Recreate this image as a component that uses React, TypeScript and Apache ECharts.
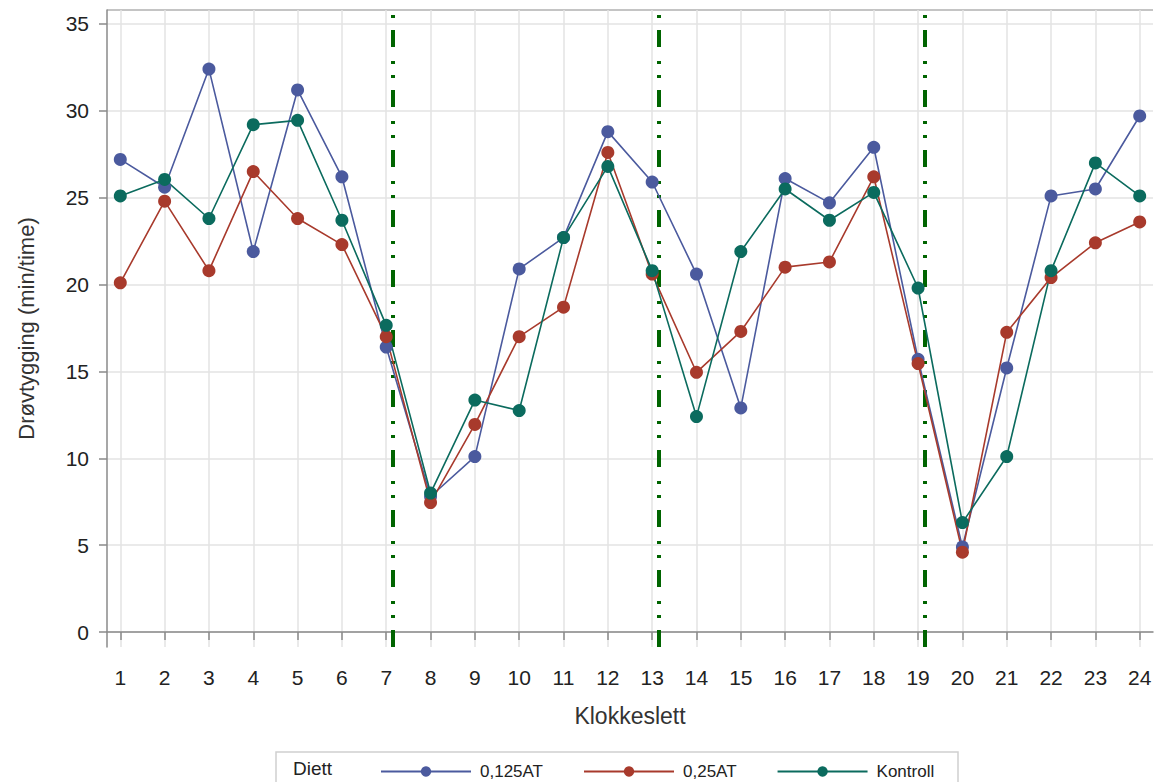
import React, { useEffect, useRef } from "react";
import * as echarts from "echarts";

const hours = [1,2,3,4,5,6,7,8,9,10,11,12,13,14,15,16,17,18,19,20,21,22,23,24];
const yTicks = [0, 5, 10, 15, 20, 25, 30, 35];
const seriesNames = ["0,125AT", "0,25AT", "Kontroll"];
const at0125 = [27.2,25.6,32.4,21.9,31.2,26.2,16.4,7.8,10.1,20.9,22.7,28.8,25.9,20.6,12.9,26.1,24.7,27.9,15.7,4.9,15.2,25.1,25.5,29.7];
const at025 = [20.1,24.8,20.8,26.5,23.8,22.3,17.0,7.45,11.95,17.0,18.7,27.6,20.6,14.95,17.3,21.0,21.3,26.2,15.45,4.6,17.25,20.4,22.4,23.6];
const kontroll = [25.1,26.05,23.8,29.2,29.45,23.7,17.65,8.0,13.35,12.75,22.7,26.8,20.8,12.4,21.9,25.5,23.7,25.3,19.8,6.3,10.1,20.8,27.0,25.1];
const refLines = [7.15, 13.15, 19.15];
const colors = ["#4B5A9E", "#A83A2C", "#0B6B5E"];

export default function App() {
  const ref = useRef<HTMLDivElement>(null);
  useEffect(() => {
    if (!ref.current) return;
    const chart = echarts.init(ref.current, undefined, { renderer: "svg" });
    const font = "Liberation Sans, Arial, sans-serif";
    const dataSets = [at0125, at025, kontroll];
    const series: any[] = dataSets.map((d, i) => ({
      name: seriesNames[i],
      type: "line",
      data: hours.map((h, j) => [h, d[j]]),
      symbol: "circle",
      symbolSize: 13,
      lineStyle: { width: 1.6, color: colors[i] },
      itemStyle: { color: colors[i] },
      z: 3,
    }));
    series[0].markLine = {
      silent: true,
      symbol: "none",
      label: { show: false },
      lineStyle: { color: "#006400", width: 4, type: [17, 12, 3, 11, 3, 14] },
      data: refLines.map((x) => ({ xAxis: x })),
      z: 2,
    };
    chart.setOption({
      animation: false,
      color: colors,
      textStyle: { fontFamily: font },
      grid: { left: 107, top: 10, right: 5, bottom: 135 },
      xAxis: {
        type: "value",
        min: 0.7,
        max: 24.3,
        name: "Klokkeslett",
        nameLocation: "middle",
        nameGap: 57,
        nameTextStyle: { fontSize: 23, color: "#333", fontFamily: font },
        axisLine: { show: true, lineStyle: { color: "#8a8a8a", width: 1.5 } },
        axisTick: { show: true, length: 8, customValues: hours, lineStyle: { color: "#8a8a8a", width: 1.5 } },
        axisLabel: { customValues: hours, fontSize: 21, color: "#222", margin: 20, fontFamily: font },
        splitLine: { show: true, lineStyle: { color: "#e3e3e3", width: 1.5 } },
      },
      yAxis: {
        type: "value",
        min: -0.86,
        max: 35.8,
        name: "Drøvtygging (min/time)",
        nameLocation: "middle",
        nameGap: 70,
        nameTextStyle: { fontSize: 22, color: "#333", fontFamily: font },
        axisLine: { show: true, lineStyle: { color: "#8a8a8a", width: 1.5 } },
        axisTick: { show: true, length: 8, customValues: yTicks, lineStyle: { color: "#8a8a8a", width: 1.5 } },
        axisLabel: { customValues: yTicks, fontSize: 21, color: "#222", margin: 18, fontFamily: font },
        splitLine: { show: true, lineStyle: { color: "#e3e3e3", width: 1.5 } },
      },
      legend: {
        left: 375,
        top: 758,
        itemWidth: 90,
        itemHeight: 13,
        itemGap: 40,
        data: seriesNames,
        textStyle: { fontSize: 17, color: "#222", fontFamily: font, padding: [0, 0, 0, 4] },
      },
      graphic: [
        { type: "line", shape: { x1: 107, y1: 10, x2: 1153, y2: 10 }, style: { stroke: "#b0b0b0", lineWidth: 1.5 } },
        { type: "rect", shape: { x: 276, y: 752, width: 682, height: 40 }, style: { fill: "none", stroke: "#d0d0d0", lineWidth: 1.5 } },
        { type: "text", x: 293, y: 759, style: { text: "Diett", fontSize: 19, fill: "#222", fontFamily: font } },
      ],
      series,
    });
    return () => chart.dispose();
  }, []);
  return <div ref={ref} style={{ position: "fixed", left: 0, top: 0, width: 1158, height: 782, background: "#fff" }} />;
}
